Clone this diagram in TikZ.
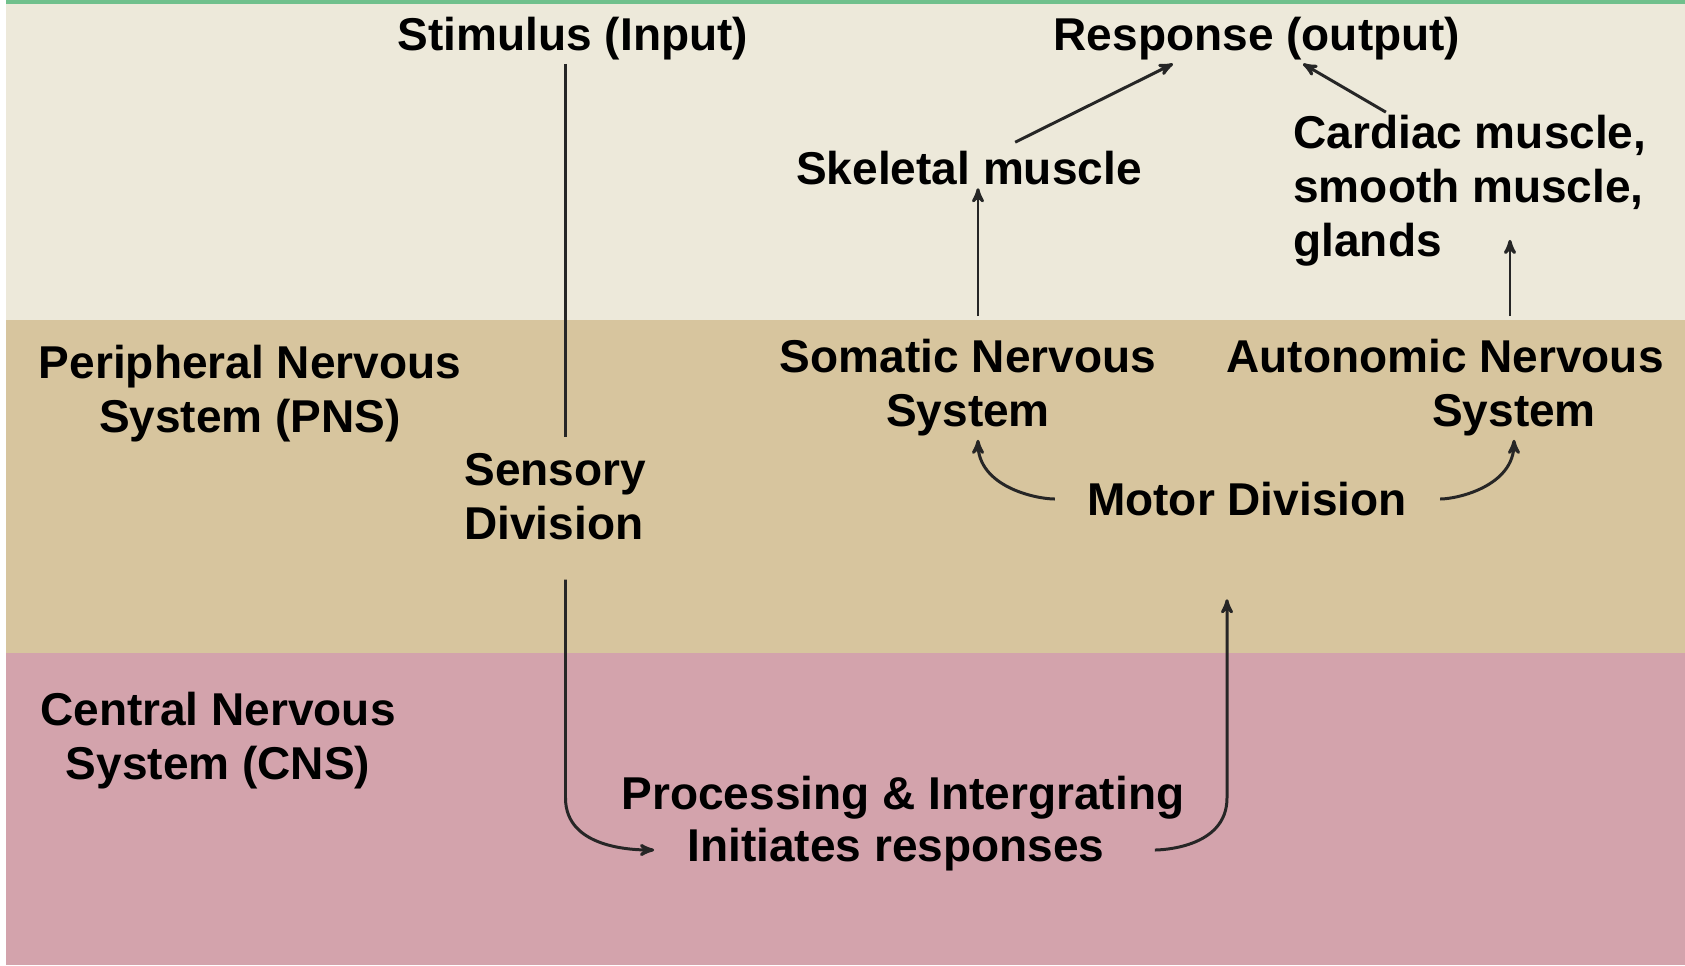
\documentclass[tikz,border=0pt]{standalone}
\usepackage{fontspec}
\setmainfont{Liberation Sans}
\usetikzlibrary{arrows}
\usetikzlibrary{positioning}

\definecolor{topband}{RGB}{237,233,218}
\definecolor{pnsband}{RGB}{215,197,158}
\definecolor{cnsband}{RGB}{211,163,172}
\definecolor{edgegreen}{RGB}{112,192,140}

\tikzset{
  lbl/.style={font=\fontsize{26.2}{30.7}\selectfont\bfseries, text=black, inner sep=0.06cm},
  link/.style={draw=black!85, line width=1.7pt},
  arr/.style={link, ->},
}

\begin{document}
\begin{tikzpicture}[x=0.02cm,y=-0.02cm,>=stealth']
    \useasboundingbox (0,0) rectangle (1685,965);

    % Bands
    \fill[white] (0,0) rectangle (1685,965);
    \fill[topband] (6,0) rectangle (1685,320);
    \fill[pnsband] (6,320) rectangle (1685,653);
    \fill[cnsband] (6,653) rectangle (1685,965);
    \fill[edgegreen] (6,0) rectangle (1685,4);

    % Input / output
    \node[lbl] (stim) at (573,39) {Stimulus (Input)};
    \node[lbl] (resp) at (1257,39) {Response (output)};
    \node[lbl] (skel) at (969,168) {Skeletal muscle};
    \node[lbl, align=left, anchor=west] (card) at (1290,191) {Cardiac muscle,\\smooth muscle,\\glands};

    % PNS
    \node[lbl, align=center] (pns) at (250,394) {Peripheral Nervous\\System (PNS)};
    \node[lbl, align=left, anchor=west] (sens) at (461,497) {Sensory\\Division};
    \node[lbl, align=center] (soma) at (968,388) {Somatic Nervous\\System};
    \node[lbl, align=center] (auto) at (1445,388) {Autonomic Nervous\\\hspace*{3em}System};
    \node[lbl] (motor) at (1247,499) {Motor Division};

    % CNS
    \node[lbl, align=center] (cns) at (218,741) {Central Nervous\\System (CNS)};
    \node[lbl] (proc1) at (903,798) {Processing \& Intergrating};
    \node[lbl] (proc2) at (896,850) {Initiates responses};

    % Sensory side
    \draw[link, shorten >=0.26cm] ([xshift=-0.15cm]stim.south) -- ([xshift=-0.15cm]stim.south |- sens.north);
    \draw[arr, shorten <=0.72cm, shorten >=0.6cm] ([xshift=-0.15cm]stim.south |- sens.south) -- ([xshift=-0.15cm]stim.south |- proc1.center) to[out=-90,in=180] (proc2.west);

    % Motor side
    \draw[arr, shorten <=0.94cm, shorten >=1.6cm] (proc2.east) to[out=0,in=-90] ([xshift=-0.4cm]motor.south |- proc1.center) -- ([xshift=-0.4cm]motor.south);
    \draw[arr, shorten <=0.58cm] (motor.west) to[out=180,in=-90] ([xshift=0.2cm]soma.south);
    \draw[arr, shorten <=0.6cm] (motor.east) to[out=0,in=-90] ([xshift=1.38cm]auto.south);
    \draw[arr, shorten <=0.4cm] ([xshift=0.2cm]soma.north) -- ([xshift=0.2cm]soma.north |- skel.south);
    \draw[arr, shorten <=0.4cm, shorten >=-0.6cm] ([xshift=1.3cm]auto.north) -- ([xshift=1.3cm]auto.north |- card.south);

    % To response
    \draw[arr, shorten <=0.25cm] ([xshift=0.7cm]skel.north) -- ([xshift=-1.68cm]resp.south);
    \draw[arr] ([xshift=-1.68cm]card.north) -- ([xshift=0.92cm]resp.south);

\end{tikzpicture}
\end{document}
